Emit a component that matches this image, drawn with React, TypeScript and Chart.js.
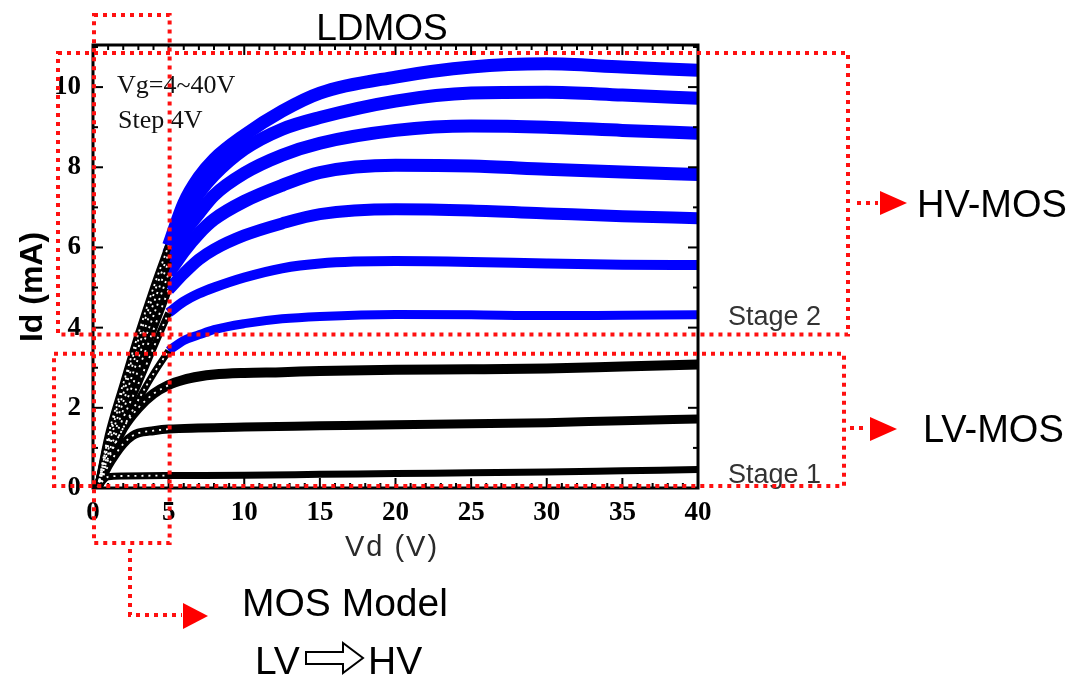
import React, { useEffect, useRef } from 'react';
import { Chart, registerables } from 'chart.js';

Chart.register(...registerables);

// ---- Data (Vd in V, Id in mA) ----
const X_TICKS = [0, 5, 10, 15, 20, 25, 30, 35, 40];
const Y_TICKS = [0, 2, 4, 6, 8, 10];

// LV-MOS curves (Vg = 4, 8, 12 V), black over the full range
const VD_VG4 = [0.3, 0.7, 1, 2, 5, 10, 15, 20, 25, 30, 35, 40];
const ID_VG4 = [0, 0.2, 0.28, 0.3, 0.31, 0.32, 0.34, 0.36, 0.38, 0.4, 0.43, 0.46];
const VD_VG8 = [0.3, 1, 1.5, 2, 2.6, 3, 4, 5, 10, 15, 20, 25, 30, 35, 40];
const ID_VG8 = [0, 0.55, 0.85, 1.1, 1.3, 1.37, 1.43, 1.47, 1.52, 1.55, 1.58, 1.6, 1.63, 1.68, 1.72];
const VD_VG12 = [0.3, 1, 2, 3, 4, 5, 6, 7, 8, 10, 12.5, 15, 20, 25, 30, 35, 40];
const ID_VG12 = [0, 0.7, 1.5, 2.0, 2.35, 2.57, 2.7, 2.78, 2.83, 2.87, 2.89, 2.92, 2.95, 2.96, 2.98, 3.03, 3.08];

// HV-MOS curves (Vg = 16 ... 40 V): linear part (black, 0-5 V) and saturation part (blue, 5-40 V)
const VD_LIN = [0.3, 1, 2, 3, 4, 5];
const VD_SAT = [5, 6, 7, 8, 10, 12.5, 15, 20, 25, 30, 35, 40];

const LIN_VG16 = [0, 0.75, 1.5, 2.2, 2.85, 3.42];
const LIN_VG20 = [0, 0.85, 1.75, 2.6, 3.5, 4.37];
const LIN_VG24 = [0, 0.95, 1.95, 2.95, 3.95, 4.95];
const LIN_VG28 = [0, 1.05, 2.15, 3.25, 4.3, 5.35];
const LIN_VG32 = [0, 1.15, 2.35, 3.5, 4.6, 5.65];
const LIN_VG36 = [0, 1.22, 2.5, 3.7, 4.82, 5.85];
const LIN_VG40 = [0, 1.3, 2.6, 3.85, 5.0, 6.05];

const SAT_VG16 = [3.42, 3.68, 3.82, 3.95, 4.1, 4.22, 4.28, 4.33, 4.32, 4.3, 4.31, 4.32];
const SAT_VG20 = [4.37, 4.65, 4.85, 5.0, 5.25, 5.48, 5.6, 5.66, 5.64, 5.6, 5.57, 5.56];
const SAT_VG24 = [4.95, 5.35, 5.7, 5.95, 6.3, 6.6, 6.83, 6.95, 6.92, 6.85, 6.78, 6.73];
const SAT_VG28 = [5.35, 5.9, 6.35, 6.7, 7.15, 7.55, 7.87, 8.05, 8.03, 7.95, 7.88, 7.82];
const SAT_VG32 = [5.65, 6.35, 6.85, 7.3, 7.85, 8.3, 8.6, 8.92, 9.03, 9.0, 8.92, 8.85];
const SAT_VG36 = [5.85, 6.75, 7.35, 7.8, 8.45, 8.95, 9.24, 9.65, 9.85, 9.87, 9.8, 9.72];
const SAT_VG40 = [6.05, 7.1, 7.75, 8.2, 8.8, 9.4, 9.85, 10.25, 10.5, 10.58, 10.5, 10.42];

const LV_CURVES = [
  { x: VD_VG4, y: ID_VG4, w: 7 },
  { x: VD_VG8, y: ID_VG8, w: 9 },
  { x: VD_VG12, y: ID_VG12, w: 10 },
];
const HV_LIN = [LIN_VG16, LIN_VG20, LIN_VG24, LIN_VG28, LIN_VG32, LIN_VG36, LIN_VG40];
const HV_SAT = [SAT_VG16, SAT_VG20, SAT_VG24, SAT_VG28, SAT_VG32, SAT_VG36, SAT_VG40];
const HV_WIDTH = [9, 10, 12, 13, 13, 13, 13];

const pts = (xs: number[], ys: number[]) => xs.map((x, i) => ({ x, y: ys[i] }));

const SANS = '"Liberation Sans", Arial, sans-serif';
const SERIF = '"Liberation Serif", "Times New Roman", serif';

const framePlugin = {
  id: 'frame',
  afterDatasetsDraw(chart: any) {
    const { ctx, chartArea: a, scales } = chart;
    const xs = scales.x;
    const ys = scales.y;
    ctx.save();
    ctx.strokeStyle = '#000';
    ctx.lineWidth = 2;
    const seg = (x1: number, y1: number, x2: number, y2: number) => {
      ctx.beginPath();
      ctx.moveTo(x1, y1);
      ctx.lineTo(x2, y2);
      ctx.stroke();
    };
    for (let v = 0; v <= 40; v += 1) {
      const px = xs.getPixelForValue(v);
      const len = v % 5 === 0 ? 10 : 5;
      seg(px, a.bottom, px, a.bottom - len);
      seg(px, a.top, px, a.top + len);
    }
    for (let v = 0; v <= 11; v += 1) {
      const py = ys.getPixelForValue(v);
      const len = v % 2 === 0 ? 10 : 5;
      seg(a.left, py, a.left + len, py);
      seg(a.right, py, a.right - len, py);
    }
    ctx.lineWidth = 3;
    ctx.strokeRect(a.left, a.top, a.right - a.left, a.bottom - a.top);
    ctx.restore();
  },
};

const annotationPlugin = {
  id: 'annot',
  afterDraw(chart: any) {
    const { ctx, chartArea: a, scales } = chart;
    const xs = scales.x;
    const ys = scales.y;
    ctx.save();

    // Titles
    ctx.fillStyle = '#000';
    ctx.textBaseline = 'alphabetic';
    ctx.textAlign = 'center';
    ctx.font = `37px ${SANS}`;
    ctx.fillText('LDMOS', 382, 40);

    ctx.save();
    ctx.translate(42, 287);
    ctx.rotate(-Math.PI / 2);
    ctx.font = `bold 32px ${SANS}`;
    ctx.fillText('Id (mA)', 0, 0);
    ctx.restore();

    ctx.fillStyle = '#2a2a2a';
    ctx.font = `29px ${SANS}`;
    (ctx as any).letterSpacing = '2px';
    ctx.fillText('Vd (V)', 392, 556);
    (ctx as any).letterSpacing = '0px';

    // In-plot note
    ctx.fillStyle = '#111';
    ctx.textAlign = 'left';
    ctx.font = `26px ${SERIF}`;
    ctx.fillText('Vg=4~40V', 117, 93);
    ctx.fillText('Step 4V', 118, 128);

    // Stage labels
    ctx.fillStyle = '#333';
    ctx.font = `27px ${SANS}`;
    ctx.fillText('Stage 2', 728, 325);
    ctx.fillText('Stage 1', 728, 483);

    // Right and bottom labels
    ctx.fillStyle = '#000';
    ctx.font = `38px ${SANS}`;
    ctx.fillText('HV-MOS', 917, 217);
    ctx.fillText('LV-MOS', 923, 442);
    ctx.font = `39px ${SANS}`;
    ctx.fillText('MOS Model', 242, 616);
    ctx.fillText('LV', 255, 674);
    ctx.fillText('HV', 368, 674);

    // Hollow arrow between LV and HV
    ctx.strokeStyle = '#000';
    ctx.lineWidth = 2;
    ctx.fillStyle = '#fff';
    ctx.beginPath();
    const ay = 658;
    ctx.moveTo(306, ay - 6);
    ctx.lineTo(343, ay - 6);
    ctx.lineTo(343, ay - 15);
    ctx.lineTo(363, ay);
    ctx.lineTo(343, ay + 15);
    ctx.lineTo(343, ay + 6);
    ctx.lineTo(306, ay + 6);
    ctx.closePath();
    ctx.fill();
    ctx.stroke();

    // Red dotted boxes
    ctx.strokeStyle = '#ff1010';
    ctx.lineWidth = 4;
    ctx.setLineDash([4, 5]);
    const x5 = xs.getPixelForValue(5);
    const y0 = ys.getPixelForValue(0);
    const rect = (l: number, t: number, r: number, b: number) => {
      ctx.beginPath();
      ctx.moveTo(l, t);
      ctx.lineTo(r, t);
      ctx.lineTo(r, b);
      ctx.lineTo(l, b);
      ctx.closePath();
      ctx.stroke();
    };
    rect(a.left + 1, 15, x5 + 1, 543);
    rect(58, 53, 848, ys.getPixelForValue(3.83));
    rect(54, ys.getPixelForValue(3.35), 844, y0 - 2);

    const poly = (p: number[][]) => {
      ctx.beginPath();
      ctx.moveTo(p[0][0], p[0][1]);
      for (let i = 1; i < p.length; i++) ctx.lineTo(p[i][0], p[i][1]);
      ctx.stroke();
    };
    poly([[130, 549], [130, 615], [182, 615]]);
    poly([[857, 203], [878, 203]]);
    poly([[850, 428], [868, 428]]);

    ctx.setLineDash([]);
    ctx.fillStyle = '#ff0000';
    const tri = (x: number, y: number, w: number, h: number) => {
      ctx.beginPath();
      ctx.moveTo(x, y - h / 2);
      ctx.lineTo(x + w, y);
      ctx.lineTo(x, y + h / 2);
      ctx.closePath();
      ctx.fill();
    };
    tri(880, 203, 27, 24);
    tri(870, 429, 27, 24);
    tri(183, 616, 25, 26);

    ctx.restore();
  },
};

export default function App() {
  const ref = useRef<HTMLCanvasElement | null>(null);

  useEffect(() => {
    document.body.style.margin = '0';
    if (!ref.current) return;

    const datasets: any[] = [];
    const base = { pointRadius: 0, fill: false, cubicInterpolationMode: 'monotone', borderCapStyle: 'butt', borderJoinStyle: 'round' };

    // speckle overlays on the linear region (drawn on top: first datasets are drawn last)
    HV_LIN.forEach((ys, i) => {
      datasets.push({ ...base, data: pts(VD_LIN, ys), borderColor: '#ffffff', borderWidth: 1.8, borderDash: [2, 4 + (i % 3)] });
    });
    LV_CURVES.forEach((c) => {
      const d = pts(c.x, c.y).filter((p) => p.x <= 5);
      datasets.push({ ...base, data: d, borderColor: '#ffffff', borderWidth: 1.8, borderDash: [2, 5] });
    });
    HV_LIN.forEach((ys) => {
      datasets.push({ ...base, data: pts(VD_LIN, ys), borderColor: '#000000', borderWidth: 7 });
    });
    HV_SAT.forEach((ys, i) => {
      datasets.push({ ...base, data: pts(VD_SAT, ys), borderColor: '#0000ff', borderWidth: HV_WIDTH[i] });
    });
    LV_CURVES.forEach((c) => {
      datasets.push({ ...base, data: pts(c.x, c.y), borderColor: '#000000', borderWidth: c.w });
    });

    const chart = new Chart(ref.current, {
      type: 'line',
      data: { datasets },
      options: {
        animation: false,
        responsive: true,
        maintainAspectRatio: false,
        layout: { padding: { left: 0, right: 385, top: 45, bottom: 0 } },
        plugins: { legend: { display: false }, tooltip: { enabled: false }, title: { display: false } },
        elements: { line: { tension: 0.3 } },
        scales: {
          x: {
            type: 'linear',
            min: 0,
            max: 40,
            afterBuildTicks: (s: any) => { s.ticks = X_TICKS.map((v) => ({ value: v })); },
            afterFit: (s: any) => { s.height = 680 - 488; },
            grid: { display: false, drawTicks: false },
            border: { display: false },
            ticks: {
              autoSkip: false,
              maxRotation: 0,
              padding: 9,
              color: '#000',
              font: { family: SERIF, size: 27, weight: 'bold' },
            },
          },
          y: {
            type: 'linear',
            min: 0,
            max: 11.05,
            afterBuildTicks: (s: any) => { s.ticks = Y_TICKS.map((v) => ({ value: v })); },
            afterFit: (s: any) => { s.width = 93; },
            grid: { display: false, drawTicks: false },
            border: { display: false },
            ticks: {
              autoSkip: false,
              padding: 12,
              color: '#000',
              font: { family: SERIF, size: 27, weight: 'bold' },
            },
          },
        },
      } as any,
      plugins: [framePlugin, annotationPlugin],
    });

    return () => chart.destroy();
  }, []);

  return (
    <div style={{ position: 'relative', width: '1083px', height: '680px', background: '#fff' }}>
      <canvas ref={ref} />
    </div>
  );
}
